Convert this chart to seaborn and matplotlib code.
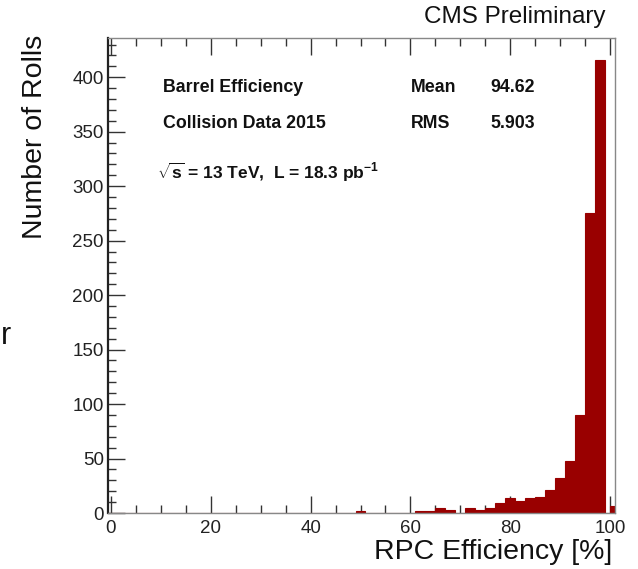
import matplotlib
matplotlib.use("Agg")
import matplotlib.pyplot as plt
from matplotlib.ticker import MultipleLocator
import seaborn as sns
import numpy as np

# ---- data ----
bin_edges = list(range(-1, 100, 2)) + [100, 101]
bin_counts = [0] * 25 + [2] + [0] * 5 + [2, 2, 5, 3, 0, 5, 3, 5, 9, 14, 11, 14, 15, 21, 32, 48, 90, 275, 416] + [0, 6]
x_ticks = [0, 20, 40, 60, 80, 100]
y_ticks = [0, 50, 100, 150, 200, 250, 300, 350, 400]

title_text = "CMS Preliminary"
x_label = "RPC Efficiency [%]"
y_label = "Number of Rolls"
stats_left = ["Barrel Efficiency", "Collision Data 2015"]
stats_names = ["Mean", "RMS"]
stats_values = ["94.62", "5.903"]
energy_text = r"$\mathbf{\sqrt{s}}$ = 13 TeV,  L = 18.3 pb$^{\mathbf{-1}}$"

bin_centers = [(bin_edges[i] + bin_edges[i + 1]) / 2 for i in range(len(bin_counts))]

sns.set_theme(style="ticks")
plt.rcParams["font.family"] = ["Liberation Sans", "DejaVu Sans"]
plt.rcParams["mathtext.fontset"] = "custom"
plt.rcParams["mathtext.rm"] = "Liberation Sans"
plt.rcParams["mathtext.bf"] = "Liberation Sans:bold"

W, H = 638, 569
fig = plt.figure(figsize=(W / 100, H / 100), dpi=100)
ax = fig.add_axes([108 / W, 1 - 513 / H, (615 - 108) / W, (513 - 38) / H])

sns.histplot(x=bin_centers, weights=bin_counts, bins=bin_edges, element="bars",
             color="#990000", edgecolor="#990000", linewidth=0.8, alpha=1.0,
             ax=ax, legend=False)

ax.set_xlim(-0.6, 101)
ax.set_ylim(0, 436)
ax.set_xlabel("")
ax.set_ylabel("")
ax.set_xticks(x_ticks)
ax.set_yticks(y_ticks)
ax.xaxis.set_minor_locator(MultipleLocator(5))
ax.yaxis.set_minor_locator(MultipleLocator(10))
ax.tick_params(axis="both", which="both", direction="in", colors="#333333",
               labelcolor="#222222", labelsize=13.5)
ax.tick_params(axis="x", which="both", top=True, bottom=True, pad=5)
ax.tick_params(axis="y", which="both", left=True, right=False, pad=3)
ax.tick_params(which="major", length=12, width=1)
ax.tick_params(which="minor", length=6, width=1)

for side in ["top", "right", "bottom"]:
    ax.spines[side].set_color("#888888")
    ax.spines[side].set_linewidth(1)
ax.spines["left"].set_color("#222222")
ax.spines["left"].set_linewidth(1.6)

def fx(px):
    return px / W

def fy(py):
    return 1 - py / H

fig.text(fx(605), fy(17), title_text, ha="right", va="center", fontsize=17.5, color="#111111")
fig.text(fx(612), fy(552), x_label, ha="right", va="center", fontsize=20.5, color="#111111")
fig.text(fx(35), fy(35), y_label, ha="center", va="top", rotation=90, fontsize=20.5, color="#111111")
fig.text(fx(1), fy(336), "r", ha="left", va="center", fontsize=22, color="#111111")

for i, t in enumerate(stats_left):
    fig.text(fx(163), fy(88 + 36 * i), t, ha="left", va="center", fontsize=12.8, fontweight="bold", color="#111111")
for i, t in enumerate(stats_names):
    fig.text(fx(411), fy(88 + 36 * i), t, ha="left", va="center", fontsize=12.8, fontweight="bold", color="#111111")
for i, t in enumerate(stats_values):
    fig.text(fx(490), fy(88 + 36 * i), t, ha="left", va="center", fontsize=12.8, fontweight="bold", color="#111111")
fig.text(fx(157), fy(172), energy_text, ha="left", va="center", fontsize=12.5, fontweight="bold", color="#111111")

fig.savefig("out.png", dpi=100)
